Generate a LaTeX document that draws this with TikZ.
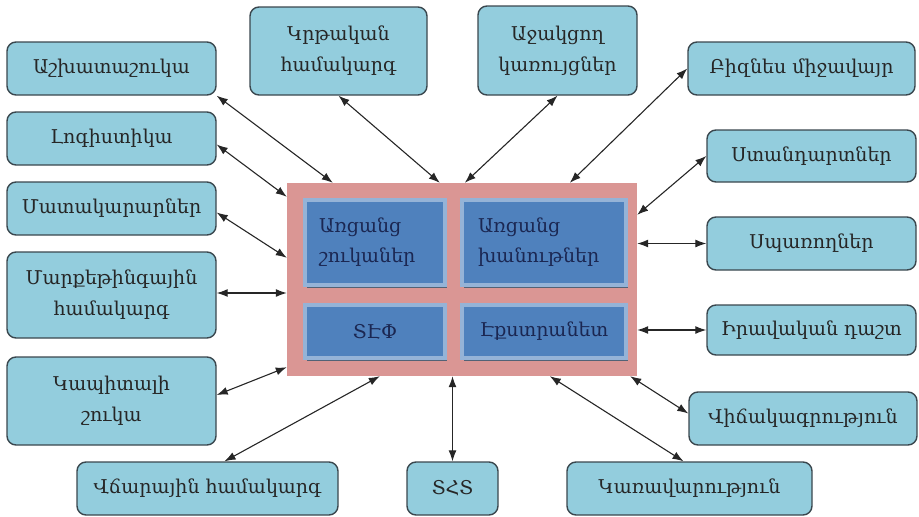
\documentclass[tikz,border=0pt]{standalone}
\usepackage{fontspec}
\setmainfont{DejaVu Serif}
\usetikzlibrary{arrows.meta,shadows}

\definecolor{sidefill}{HTML}{93CDDD}
\definecolor{sideline}{HTML}{3A474E}
\definecolor{corefill}{HTML}{DA9694}
\definecolor{partfill}{HTML}{4F81BD}
\definecolor{partline}{HTML}{95B3D7}
\definecolor{parttext}{HTML}{1B2752}

\tikzset{
  side/.style={rectangle, rounded corners=9pt, draw=sideline, fill=sidefill,
    line width=1.4pt, align=center, inner sep=2pt,
    font=\fontsize{19}{31}\selectfont, text=black!85},
  core/.style={rectangle, fill=corefill, minimum width=350pt, minimum height=193pt},
  part/.style={rectangle, fill=partfill, draw=partline, line width=4pt,
    inner sep=0pt, font=\fontsize{19}{30}\selectfont, text=parttext,
    drop shadow={shadow xshift=2pt, shadow yshift=-3pt, fill=black!45!partline, opacity=1}},
  link/.style={{Latex[length=11pt,width=8pt]}-{Latex[length=11pt,width=8pt]}, line width=1.1pt, black!85}
}

\begin{document}
\begin{tikzpicture}[x=1pt, y=-1pt]
  \useasboundingbox (0,0) rectangle (919,517);

  % center block
  \node[core] (core) at (462,279.5) {};
  \node[part, minimum width=140pt, minimum height=85pt, text width=112pt, inner xsep=14pt, align=left] (onl) at (375,242.5) {Առցանց\\շուկաներ};
  \node[part, minimum width=164pt, minimum height=85pt, text width=132pt, inner xsep=16pt, align=left] (shop) at (544,242.5) {Առցանց\\խանութներ};
  \node[part, minimum width=140pt, minimum height=53pt] (tef) at (375,331.5) {ՏԷՓ};
  \node[part, minimum width=164pt, minimum height=53pt] (ext) at (544,331.5) {Էքստրանետ};

  % boxes around
  \node[side, minimum width=209pt, minimum height=53pt] (ashx) at (111.5,68.5) {Աշխատաշուկա};
  \node[side, minimum width=177pt, minimum height=88pt] (krt) at (338.5,51) {Կրթական\\համակարգ};
  \node[side, minimum width=159pt, minimum height=89pt] (ajak) at (557.5,50.5) {Աջակցող\\կառույցներ};
  \node[side, minimum width=227pt, minimum height=53pt] (biz) at (801.5,68.5) {Բիզնես միջավայր};
  \node[side, minimum width=209pt, minimum height=53pt] (log) at (111.5,138.5) {Լոգիստիկա};
  \node[side, minimum width=209pt, minimum height=53pt] (mat) at (111.5,208.5) {Մատակարարներ};
  \node[side, minimum width=209pt, minimum height=86pt] (mark) at (111.5,295) {Մարքեթինգային\\համակարգ};
  \node[side, minimum width=209pt, minimum height=88pt] (kap) at (111.5,401) {Կապիտալի\\շուկա};
  \node[side, minimum width=261pt, minimum height=53pt] (vch) at (207.5,488.5) {Վճարային համակարգ};
  \node[side, minimum width=91pt, minimum height=53pt] (tht) at (452.5,488.5) {ՏՀՏ};
  \node[side, minimum width=245pt, minimum height=53pt] (kar) at (689.5,488.5) {Կառավարություն};
  \node[side, minimum width=228pt, minimum height=53pt] (vich) at (803,418.5) {Վիճակագրություն};
  \node[side, minimum width=209pt, minimum height=50pt] (irav) at (811.5,330) {Իրավական դաշտ};
  \node[side, minimum width=209pt, minimum height=53pt] (spar) at (811.5,243.5) {Սպառողներ};
  \node[side, minimum width=209pt, minimum height=52pt] (stand) at (811.5,156) {Ստանդարտներ};

  % links
  \draw[link] (ashx.south east) -- ([xshift=46pt]core.north west);
  \draw[link] (krt.south) -- ([xshift=153pt]core.north west);
  \draw[link] (ajak.south) -- ([xshift=178pt]core.north west);
  \draw[link] (biz.west) -- ([xshift=283pt]core.north west);
  \draw[link] ([yshift=-6pt]log.east) -- ([yshift=-14pt]core.north west);
  \draw[link] ([yshift=-4pt]mat.east) -- ([yshift=-75pt]core.north west);
  \draw[link] ([yshift=2pt]mark.east) -- ([yshift=2pt]mark.east -| core.west);
  \draw[link] ([yshift=6pt]kap.east) -- ([yshift=9pt]core.south west);
  \draw[link] ([xshift=17pt]vch.north) -- ([xshift=93pt]core.south west);
  \draw[link] (tht.north) -- (tht.north |- core.south);
  \draw[link] ([xshift=-6pt]kar.north) -- ([xshift=263pt]core.south west);
  \draw[link] ([yshift=5pt]vich.west) -- ([xshift=-7pt]core.south east);
  \draw[link] (irav.west) -- (irav.west -| core.east);
  \draw[link] (spar.west) -- (spar.west -| core.east);
  \draw[link] (stand.west) -- ([yshift=-32pt]core.north east);
\end{tikzpicture}
\end{document}
